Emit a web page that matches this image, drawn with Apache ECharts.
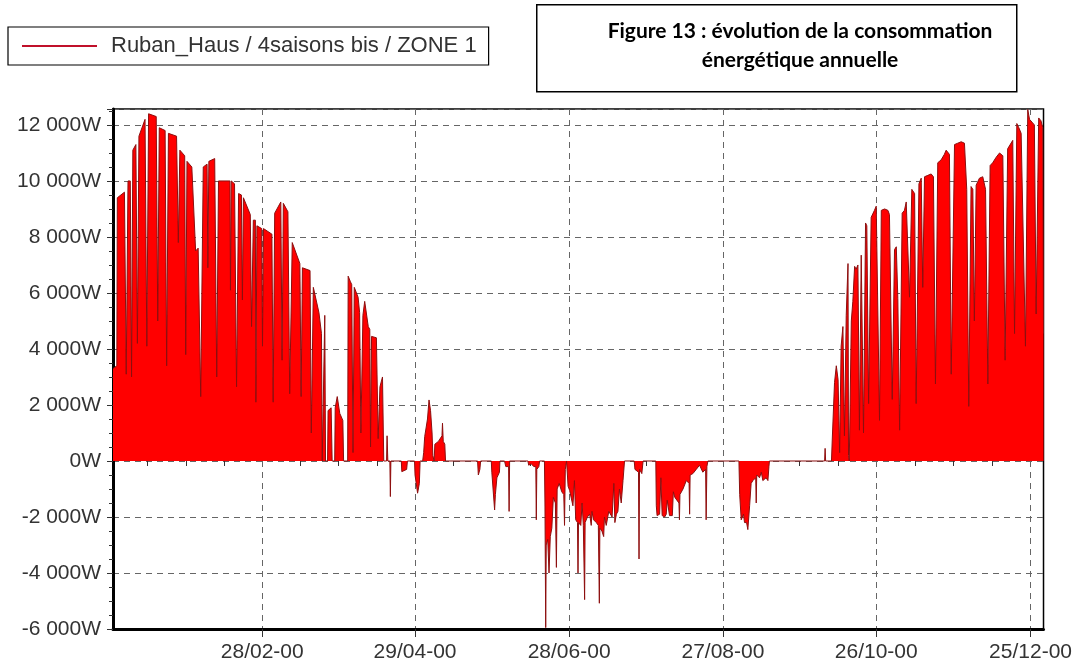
<!DOCTYPE html>
<html><head><meta charset="utf-8">
<script src="https://cdn.jsdelivr.net/npm/echarts@6/dist/echarts.min.js"></script>
<style>html,body{margin:0;padding:0;background:#fff}#c{width:1075px;height:672px}</style>
</head><body><div id="c"></div>
<script>
// ---------- data (x = day of year 2000, y = power in W) ----------
const seriesName = 'Ruban_Haus / 4saisons bis / ZONE 1';
const titleLines = ['Figure 13 : évolution de la consommation', 'énergétique annuelle'];
const xTickDays = [58.7, 118.8, 179.4, 239.9, 300.2, 360.9];
const xTickLabels = ['28/02-00', '29/04-00', '28/06-00', '27/08-00', '26/10-00', '25/12-00'];
const yMin = -6000, yMax = 12570, yStep = 2000, xMin = 0, xMax = 366;

const heatingWinter = [
  [0,3300],[1.5,3400],[1.7,9400],[4.5,9600],[5.2,3100],[5.9,10000],[6.8,10000],[7.3,3000],
  [7.8,11100],[9.0,11300],[9.6,4200],[10.2,11600],[12.6,12200],[13.3,4100],[14.0,12400],
  [17.0,12300],[17.6,5000],[18.2,11900],[20.5,11800],[21.1,3400],[21.8,11700],[25.0,11600],
  [25.7,7800],[26.3,11100],[28.2,10900],[28.6,3800],[29.1,10700],[31.0,10500],[32.5,7500],
  [33.5,7600],[34.5,2300],[35.5,10500],[37.0,10600],[37.3,6900],[37.7,10700],[40.0,10800],
  [40.8,3000],[41.5,10000],[46.0,10000],[46.2,6100],[46.5,10000],[47.8,9900],[48.6,2650],
  [49.4,9550],[50.5,9500],[50.9,5750],[51.3,9400],[54.0,8800],[54.5,4800],[55.2,8600],
  [56.0,8600],[56.2,2100],[56.6,8400],[58.5,8300],[58.8,4100],[59.2,8300],[62.5,8100],
  [63.0,2100],[63.6,8850],[66.0,9250],[66.5,3600],[67.0,9200],[68.8,8900],[69.5,2400],
  [70.5,7800],[73.5,7050],[74.0,2300],[74.5,6900],[77.5,6800],[78.0,1000],[78.8,6200],
  [81.0,5300],[82.0,4550],[82.3,0]
];
const heatingSpring = [
  [83.0,0],[83.3,5200],[83.6,0],[84.4,0],[84.6,1800],[85.8,1900],[86.2,0],[87.2,0],
  [87.4,1900],[88.2,2300],[89.2,1700],[90.4,1450],[90.7,0],[92.3,0],[92.5,6600],[93.4,6400],
  [93.9,6300],[94.4,300],[94.9,6200],[95.5,6150],[96.4,5850],[97.0,5300],[97.5,1000],
  [98.3,5200],[99.0,5700],[100.4,4800],[101.0,4700],[101.3,500],[101.7,4450],[103.6,4400],
  [104.3,800],[105.0,2650],[106.0,3000],[106.5,0],[107.6,0],[107.8,900],[108.1,0],
  [108.9,0],[109.1,-1270],[109.3,0],[113.4,0],[113.6,-380],[115.5,-300],[115.8,0],
  [118.6,0],[118.8,-500],[119.8,-1150],[120.5,-800],[120.8,0],[121.8,0],[122.2,300],
  [122.6,870],[123.7,1500],[124.3,2180],[124.9,1800],[125.5,1000],[125.8,200],[126.3,0],
  [126.6,600],[128.0,700],[129.4,900],[129.6,1350],[129.9,700],[130.5,600],[130.8,0]
];
const coolingSummer = [
  [143.4,0],[143.7,-500],[144.3,-300],[144.6,0],
  [148.8,0],[149.0,-400],[150.1,-1750],[150.4,-1200],[151.0,-600],[152.0,-400],[152.2,0],
  [154.0,0],[154.5,-200],[155.6,-200],[155.8,-1800],[156.0,0],
  [163.2,0],[163.5,-150],[164.5,-100],[165.5,-200],[166.3,-200],[166.5,-2100],[166.7,-300],[167.5,-200],[167.8,0],
  [169.7,0],[169.9,-1500],[170.2,-5950],[170.4,-3000],[171.0,-2800],[171.5,-4000],[172.0,-2700],
  [172.6,-2400],[173.2,-1300],[174.0,-1500],[174.4,-3800],[174.7,-1000],[175.5,-800],[176.5,-1100],
  [177.3,-1200],[177.6,-2300],[177.9,-300],[178.4,0],
  [178.9,0],[179.0,-900],[179.6,-1050],[180.9,-1600],[181.5,-700],[182.0,-2100],[182.7,-2200],
  [182.9,-4000],[183.1,-2200],[184.0,-2300],[184.5,-1500],[185.0,-2300],[185.5,-4950],[185.7,-2200],
  [186.6,-2000],[187.5,-1900],[188.1,-2300],[188.4,-1800],[189.0,-2100],[190.1,-2200],[190.9,-2300],
  [191.3,-5080],[191.5,-2400],[192.3,-2500],[193.0,-2700],[193.3,-2000],[194.0,-2300],[195.0,-1800],
  [195.5,-1800],[196.3,-2000],[196.6,-2000],[197.0,-800],[197.4,-2200],[198.0,-1900],[198.6,-1800],
  [199.2,-1000],[199.9,-1500],[200.6,-700],[201.2,0],
  [205.0,0],[205.3,-300],[206.0,-250],[206.7,-400],[206.9,-3500],[207.1,-300],[208.0,-450],[208.5,0],
  [213.5,0],[213.7,-1600],[214.0,-1950],[215.0,-1900],[215.5,-600],[216.0,-1950],[217.0,-2000],
  [217.6,-1900],[218.0,-1400],[218.9,-1950],[220.0,-1950],[220.4,-1100],[221.0,-1300],[221.5,-1300],
  [222.6,-1500],[222.8,-2100],[223.0,-1200],[224.2,-1000],[225.5,-700],[226.6,-800],[226.8,-1900],
  [227.0,-500],[228.1,-450],[229.4,-300],[230.7,-150],[232.0,-400],[233.1,-300],[233.3,-2100],
  [233.6,-200],[234.0,0],
  [246.2,0],[246.5,-1200],[247.1,-2100],[248.0,-1900],[248.4,-2200],[249.2,-2200],[249.7,-2450],
  [250.4,-1600],[251.0,-800],[251.7,-700],[252.8,-600],[253.0,-1500],[253.2,-500],[254.3,-600],
  [255.0,-400],[255.6,-700],[256.9,-600],[257.6,-700],[258.0,-200],[258.2,0]
];
const heatingAutumn = [
  [279.9,0],[280.1,450],[280.3,0],[282.6,0],[282.9,750],[283.8,2800],[284.5,3400],[285.2,2900],
  [285.8,300],[286.4,4100],[287.1,4800],[287.7,900],[288.4,5200],[289.1,7050],[289.3,200],
  [289.6,0],[290.1,0],[290.4,5000],[291.0,5700],[291.7,6950],[292.3,6850],[293.0,7000],
  [293.6,1100],[294.3,7350],[294.9,7300],[295.2,1000],[296.0,8500],[296.5,8400],[297.2,2050],
  [298.2,8700],[298.9,8750],[299.5,8950],[300.2,9100],[301.5,1450],[302.2,8950],[303.5,9000],
  [304.8,8950],[305.4,8800],[306.5,2200],[307.4,7550],[308.1,7650],[308.7,5800],[309.4,1100],
  [310.4,8850],[311.3,8950],[312.0,9250],[312.6,9300],[313.3,5850],[314.2,9700],[315.3,9550],
  [315.9,2050],[317.0,9900],[317.9,10100],[318.5,6200],[319.2,10150],[320.5,10200],[321.8,10250],
  [322.7,10150],[323.5,2750],[324.4,10650],[325.7,10750],[327.0,10950],[327.7,11100],[328.4,11150],
  [329.0,10950],[329.7,3100],[331.0,11300],[332.3,11350],[333.6,11400],[334.9,11350],[335.8,9700],
  [336.6,1950],[337.5,9800],[338.2,9700],[338.8,5000],[339.5,9850],[340.8,10100],[342.1,10150],
  [343.2,9700],[344.1,2750],[345.0,10550],[346.0,10650],[347.4,10850],[348.7,11000],[350.0,10900],
  [350.9,3600],[351.9,11150],[352.6,11200],[353.9,11450],[354.6,4550],[355.5,12050],[356.3,11900],
  [357.2,11700],[358.9,4100],[359.8,12550],[360.5,12200],[361.5,12100],[362.4,12000],[363.1,5250],
  [364.1,12250],[365.0,12150],[365.7,11900],[366.0,4550]
];
// -----------------------------------------------------------------

const allPoints = heatingWinter.concat(heatingSpring, coolingSummer, heatingAutumn);

// minor x ticks: quarter steps between the labelled dates
const xMinorTicks = [];
for (let i = 0; i < xTickDays.length - 1; i++) {
  const st = (xTickDays[i + 1] - xTickDays[i]) / 4;
  for (let k = 1; k <= 3; k++) xMinorTicks.push(xTickDays[i] + k * st);
  if (i === 0) for (let k = 1; k <= 3; k++) { const v = xTickDays[0] - k * st; if (v > xMin) xMinorTicks.push(v); }
}

function fmtW(v) {
  if (Math.abs(v % yStep) > 1e-6) return '';
  const a = Math.abs(v);
  let s = a >= 1000 ? Math.floor(a / 1000) + ' ' + String(a % 1000).padStart(3, '0') : String(a);
  return (v < 0 ? '-' : '') + s + 'W';
}
function fmtDate(v) {
  for (let i = 0; i < xTickDays.length; i++) if (Math.abs(xTickDays[i] - v) < 0.01) return xTickLabels[i];
  return '';
}

const labelFont = { fontFamily: 'Liberation Sans, Arial, sans-serif', fontSize: 21, color: '#333' };
const chart = echarts.init(document.getElementById('c'), null, { renderer: 'canvas' });
chart.setOption({
  animation: false,
  backgroundColor: '#fff',
  grid: { left: 113, right: 31, top: 109, bottom: 43, show: true, borderColor: '#000', borderWidth: 1.5, backgroundColor: 'transparent' },
  legend: {
    left: 8, top: 27,
    padding: [8, 12, 8, 14],
    itemWidth: 75, itemHeight: 2, itemGap: 0,
    icon: 'rect',
    borderColor: '#000', borderWidth: 1.2, backgroundColor: '#fff',
    textStyle: Object.assign({}, labelFont, { fontSize: 22, padding: [0, 0, 0, 9] }),
    data: [{ name: seriesName, itemStyle: { color: '#c0102a' } }]
  },
  xAxis: [{
    type: 'value', min: xMin, max: xMax, position: 'bottom',
    axisLine: { show: true, onZero: false, lineStyle: { color: '#000', width: 3 } },
    axisTick: { show: true, customValues: xTickDays, length: 8, lineStyle: { color: '#333', width: 1 } },
    axisLabel: Object.assign({ customValues: xTickDays, formatter: fmtDate, margin: 13 }, labelFont),
    splitLine: { show: true, lineStyle: { color: '#666', type: [6, 5], width: 1 } }
  }, {
    type: 'value', min: xMin, max: xMax, position: 'bottom',
    axisLine: { show: false },
    axisTick: { show: true, customValues: xMinorTicks, length: 5, lineStyle: { color: '#333', width: 1 } },
    axisLabel: { show: false },
    splitLine: { show: false }
  }],
  yAxis: {
    type: 'value', min: yMin, max: yMax, interval: yStep,
    axisLine: { show: true, onZero: false, lineStyle: { color: '#000', width: 3 } },
    axisTick: { show: true, length: 6, lineStyle: { color: '#333' } },
    minorTick: { show: true, splitNumber: 4, length: 4, lineStyle: { color: '#333' } },
    axisLabel: Object.assign({ formatter: fmtW, margin: 12, showMaxLabel: false }, labelFont),
    splitLine: { show: true, lineStyle: { color: '#666', type: [6, 5], width: 1 } }
  },
  graphic: [
    { type: 'rect', left: 536, top: 4, shape: { width: 480, height: 87 }, style: { fill: '#fff', stroke: '#000', lineWidth: 1.5 } },
    { type: 'text', x: 800, y: 31, style: { text: titleLines[0], font: 'bold 21px Lato, sans-serif', align: 'center', verticalAlign: 'middle', fill: '#000' } },
    { type: 'text', x: 800, y: 60, style: { text: titleLines[1], font: 'bold 21px Lato, sans-serif', align: 'center', verticalAlign: 'middle', fill: '#000' } }
  ],
  series: [{
    name: seriesName, type: 'line', xAxisIndex: 0, data: allPoints,
    symbol: 'none', showSymbol: false,
    lineStyle: { color: '#8c0f0f', width: 1 },
    areaStyle: { color: '#ff0000', opacity: 1 },
    z: 3
  }]
});
</script></body></html>
